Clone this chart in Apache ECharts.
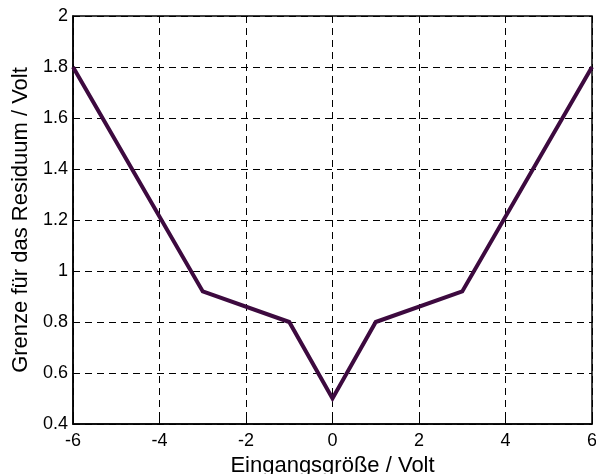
<!DOCTYPE html>
<html><head><meta charset="utf-8">
<script src="https://cdn.jsdelivr.net/npm/echarts@6/dist/echarts.min.js"></script>
<style>html,body{margin:0;padding:0;background:#fff}#c{width:596px;height:474px}</style>
</head><body><div id="c"></div>
<script>
const xValues = [-6, -3, -1, 0, 1, 3, 6];
const yValues = [1.8, 0.92, 0.8, 0.5, 0.8, 0.92, 1.8];
const xTicks = [-6, -4, -2, 0, 2, 4, 6];
const yTicks = [0.4, 0.6, 0.8, 1, 1.2, 1.4, 1.6, 1.8, 2];
const xTitle = 'Eingangsgröße / Volt';
const yTitle = 'Grenze für das Residuum / Volt';

const font = 'Liberation Sans, Arial, sans-serif';
const chart = echarts.init(document.getElementById('c'), null, {renderer: 'canvas'});
chart.setOption({
  animation: false,
  grid: {left: 73, right: 4, top: 16, bottom: 50, show: true, borderColor: '#000', borderWidth: 1.5,
    containLabel: false, outerBoundsMode: 'none'},
  xAxis: {
    type: 'value', min: -6, max: 6, interval: 2,
    name: xTitle, nameLocation: 'middle', nameGap: 28,
    nameTextStyle: {fontFamily: font, fontSize: 22, color: '#000'},
    axisLine: {show: true, onZero: false, lineStyle: {color: '#000', width: 1.5}},
    axisTick: {show: true, inside: true, length: 5, lineStyle: {color: '#000'}},
    axisLabel: {fontFamily: font, fontSize: 18, color: '#000', margin: 8,
      formatter: v => xTicks.includes(v) ? String(v) : ''},
    splitLine: {show: true, lineStyle: {color: '#000', type: [7, 5], width: 1}}
  },
  yAxis: {
    type: 'value', min: 0.4, max: 2, interval: 0.2,
    name: yTitle, nameLocation: 'middle', nameGap: 38,
    nameTextStyle: {fontFamily: font, fontSize: 22, color: '#000'},
    axisLine: {show: true, onZero: false, lineStyle: {color: '#000', width: 1.5}},
    axisTick: {show: true, inside: true, length: 5, lineStyle: {color: '#000'}},
    axisLabel: {fontFamily: font, fontSize: 18, color: '#000', margin: 5,
      formatter: v => { const t = yTicks.find(t => Math.abs(t - v) < 1e-9); return t === undefined ? '' : String(t); }},
    splitLine: {show: true, lineStyle: {color: '#000', type: [7, 5], width: 1}}
  },
  series: [{
    type: 'line',
    data: xValues.map((x, i) => [x, yValues[i]]),
    symbol: 'none',
    lineStyle: {color: '#3d0a3f', width: 4, join: 'miter'},
    clip: false
  }]
});
</script>
</body></html>
